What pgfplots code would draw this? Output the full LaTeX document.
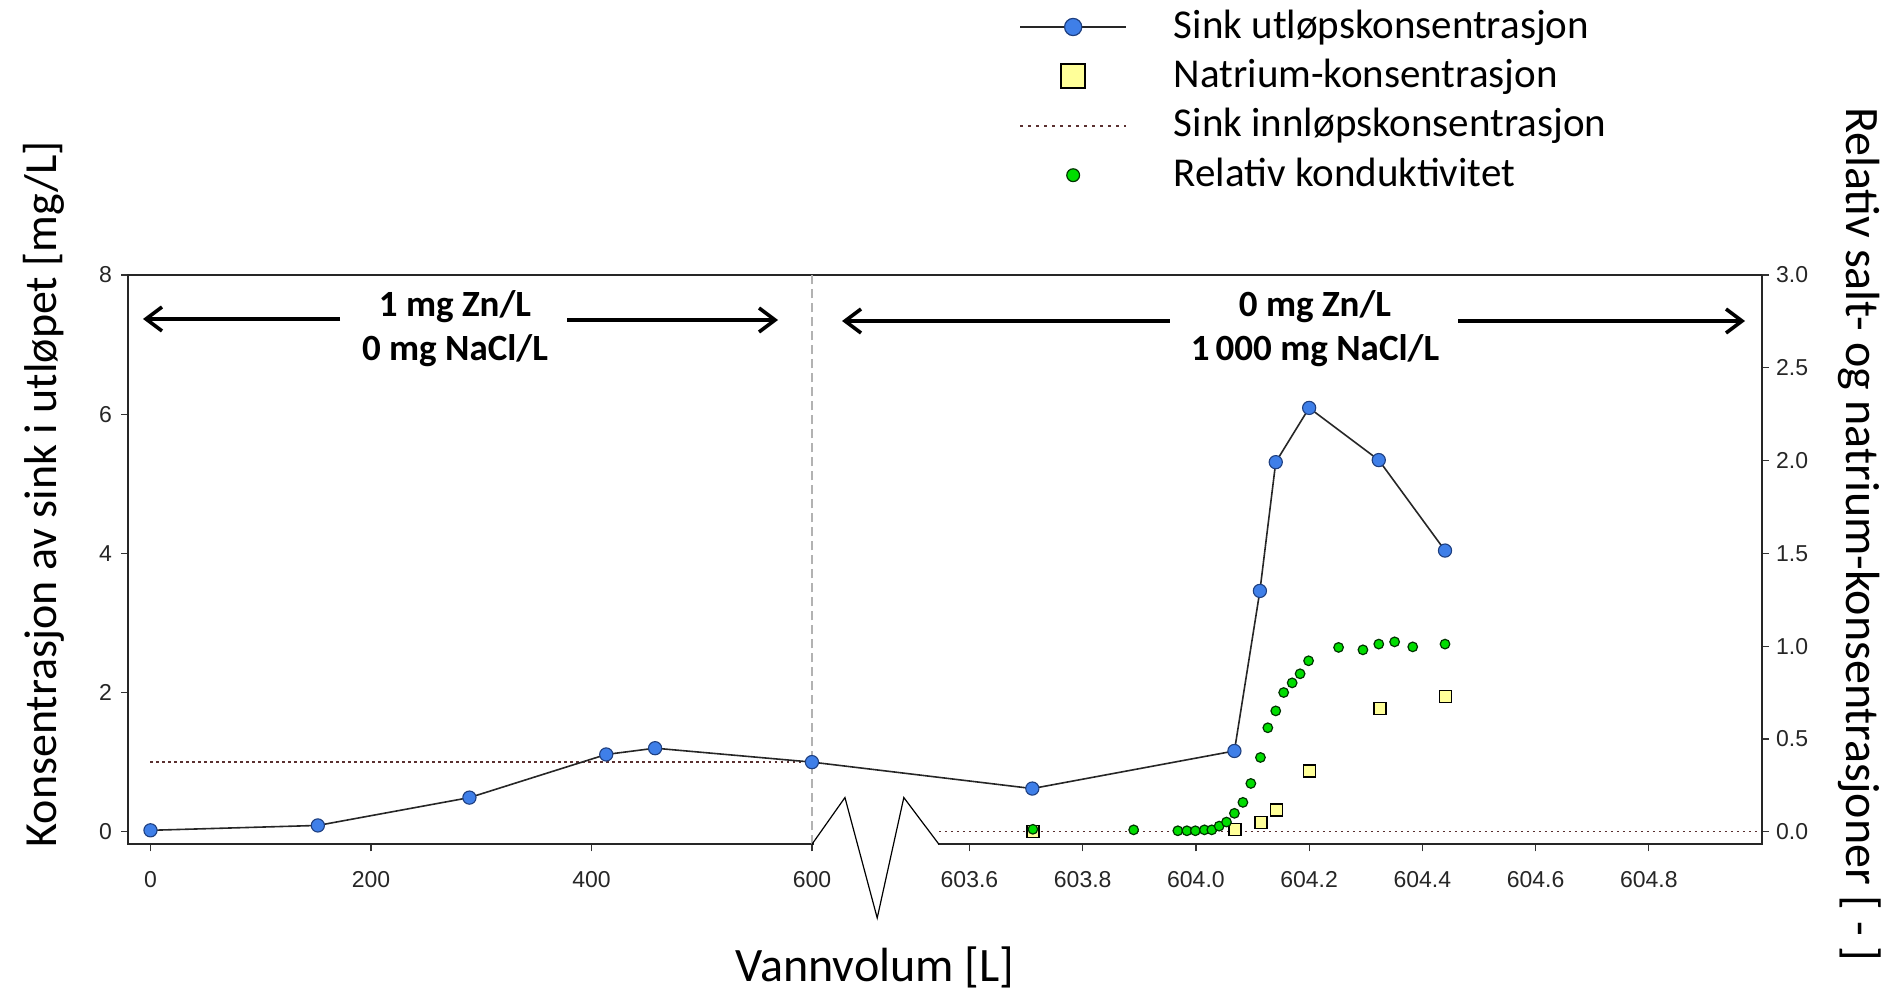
\documentclass[border=0pt]{standalone}
\usepackage{fontspec}
\setmainfont{Carlito}
\newfontfamily\tickfont{Liberation Sans}
\usepackage{pgfplots}
\pgfplotsset{compat=1.18}
\usetikzlibrary{arrows.meta}

\definecolor{zblue}{HTML}{3F7FE8}
\definecolor{zblueedge}{HTML}{1E3F80}
\definecolor{nayellow}{HTML}{FFFF99}
\definecolor{cgreen}{HTML}{00DD00}
\definecolor{cgreenedge}{HTML}{003300}
\definecolor{innred}{HTML}{5A3030}

% broken x axis: 0..600 kept, 603.6.. stretched
\newdimen\brkdim
\makeatletter
\def\brokentrafo#1{%
  \begingroup
    \pgfkeys{/pgf/fpu=true,/pgf/fpu/output format=fixed}%
    \pgfmathparse{#1}%
    \global\let\brk@in\pgfmathresult
  \endgroup
  \brkdim=\brk@in pt\relax
  \ifdim\brkdim<602pt\relax
    \edef\pgfmathresult{\brk@in}%
  \else
    \advance\brkdim by -603.6pt\relax
    \brkdim=513.5\brkdim
    \advance\brkdim by 742.9pt\relax
    \edef\pgfmathresult{\strip@pt\brkdim}%
  \fi}
\makeatother

\pgfplotsset{
  brokenx/.style={
    x coord trafo/.code={\brokentrafo{##1}},
    xmin=-20.4, xmax=605,
    at={(64pt,72.85pt)}, anchor=south west,
    scale only axis, width=817pt, height=284.65pt,
    clip=false,
    tick align=outside,
    major tick length=3.5pt,
    tick style={black!80, line width=0.6pt},
    axis line style={black!85, line width=0.9pt},
    ticklabel style={font=\tickfont\fontsize{11.5}{13}\selectfont, text=black!85},
    /pgf/number format/assume math mode=true,
  },
}

\begin{document}
\begin{tikzpicture}
\useasboundingbox (0,0) rectangle (944pt,495pt);

\begin{axis}[
  brokenx,
  ymin=-0.181, ymax=8,
  ytick={0,2,4,6,8},
  xtick={0,200,400,600,603.6,603.8,604.0,604.2,604.4,604.6,604.8},
  xticklabels={0,200,400,600,603.6,603.8,604.0,604.2,604.4,604.6,604.8},
  xticklabel style={yshift=-6.5pt},
  yticklabel style={xshift=-1pt},
  tick pos=left,
]
% Sink innloepskonsentrasjon
\addplot[innred, line width=0.75pt, dash pattern=on 1.2pt off 1.8pt] coordinates {(0,1) (600,1)};
\addplot[innred, line width=0.75pt, dash pattern=on 1.2pt off 1.8pt] coordinates {(603.546,0) (605,0)};
% break marker line at 600
\addplot[gray!60, line width=0.8pt, dash pattern=on 4.5pt off 2.5pt] coordinates {(600,-0.181) (600,8)};
% Sink utloepskonsentrasjon
\addplot[black!85, line width=0.8pt, mark=*, mark size=3.3pt,
  mark options={fill=zblue, draw=zblueedge, line width=0.55pt}] coordinates {
  (0,0.02) (151.8,0.09) (289.3,0.49) (413.4,1.11) (457.7,1.20) (600,1.00)
  (603.711,0.62) (604.068,1.16) (604.113,3.46) (604.141,5.31) (604.200,6.09)
  (604.323,5.34) (604.440,4.04)};
\end{axis}

\begin{axis}[
  brokenx,
  ymin=-0.0679, ymax=3,
  axis y line*=right, axis x line=none,
  ytick={0,0.5,1,1.5,2,2.5,3},
  yticklabel style={/pgf/number format/.cd, fixed, fixed zerofill, precision=1},
  legend style={at={(axis description cs:0.5452,1.479)}, anchor=north west,
    draw=none, fill=none, inner sep=0pt, outer sep=0pt, row sep=0pt,
    font=\fontsize{20.5}{24}\selectfont,
    nodes={inner xsep=0pt, inner ysep=2.35pt, text height=15.5pt, text depth=4.5pt},
    /tikz/every odd column/.append style={column sep=23.2pt}},
  legend cell align=left,
  legend image code/.code={\draw[mark repeat=2,mark phase=2,#1] plot coordinates {(0pt,0pt) (26.5pt,0pt) (53pt,0pt)};},
]
\addlegendimage{black!85, line width=1.3pt, mark=*, mark size=4.3pt, mark options={fill=zblue, draw=zblueedge, line width=0.6pt}}
\addlegendentry{Sink utløpskonsentrasjon}
\addlegendimage{only marks, mark=square*, mark size=6pt, mark options={fill=nayellow, draw=black, line width=0.9pt}}
\addlegendentry{Natrium-konsentrasjon}
\addlegendimage{innred, line width=1pt, dash pattern=on 1.5pt off 2.5pt}
\addlegendentry{Sink innløpskonsentrasjon}
\addlegendimage{only marks, mark=*, mark size=3.2pt, mark options={fill=cgreen, draw=cgreenedge, line width=0.6pt}}
\addlegendentry{Relativ konduktivitet}

% Natrium-konsentrasjon
\addplot[forget plot, only marks, mark=square*, mark size=3pt,
  mark options={fill=nayellow, draw=black, line width=0.6pt}] coordinates {
  (603.712,0.0) (604.069,0.01) (604.115,0.049) (604.142,0.117)
  (604.201,0.327) (604.325,0.666) (604.441,0.728)};
% Relativ konduktivitet
\addplot[forget plot, only marks, mark=*, mark size=2.4pt,
  mark options={fill=cgreen, draw=cgreenedge, line width=0.6pt}] coordinates {
  (603.712,0.013) (603.890,0.01) (603.968,0.005) (603.984,0.005) (603.999,0.005)
  (604.015,0.01) (604.028,0.01) (604.041,0.03) (604.054,0.052) (604.068,0.099)
  (604.083,0.158) (604.097,0.26) (604.114,0.40) (604.127,0.56) (604.141,0.651)
  (604.155,0.75) (604.170,0.802) (604.184,0.851) (604.199,0.921) (604.252,0.993)
  (604.295,0.980) (604.323,1.011) (604.351,1.023) (604.383,0.996) (604.440,1.011)};
% axis break
\addplot[forget plot, white, line width=3pt] coordinates {(601.5,-0.0679) (603.544,-0.0679)};
\addplot[forget plot, black, line width=0.6pt] coordinates {(600,-0.0679) (603.380,0.184) (603.437,-0.465) (603.484,0.184) (603.546,-0.0679)};
\end{axis}

% annotations
\begin{scope}[font=\bfseries\fontsize{18.5}{22}\selectfont]
\node[anchor=base, inner sep=0pt] at (227.5pt,336.5pt) {1 mg Zn/L};
\node[anchor=base, inner sep=0pt] at (227.5pt,314.5pt) {0 mg NaCl/L};
\node[anchor=base, inner sep=0pt] at (657.5pt,336.5pt) {0 mg Zn/L};
\node[anchor=base, inner sep=0pt] at (657.5pt,314.5pt) {1\,000 mg NaCl/L};
\end{scope}
\begin{scope}[line width=1.8pt, -{Straight Barb[length=8pt,width=12pt]}]
\draw (170pt,335.5pt) -- (71.5pt,335.5pt);
\draw (283.5pt,335pt) -- (389pt,335pt);
\draw (584.75pt,334.5pt) -- (421pt,334.5pt);
\draw (729pt,334.5pt) -- (872.5pt,334.5pt);
\end{scope}

% axis titles
\node[rotate=90, anchor=base, inner sep=0pt, font=\fontsize{23}{27}\selectfont] at (28.3pt,248pt) {Konsentrasjon av sink i utløpet [mg/L]};
\node[rotate=-90, anchor=base, inner sep=0pt, font=\fontsize{24}{28}\selectfont] at (923pt,227.75pt) {Relativ salt- og natrium-konsentrasjoner [ - ]};
\node[anchor=base, inner sep=0pt, font=\fontsize{24}{28}\selectfont] at (437.5pt,4.5pt) {Vannvolum [L]};
\end{tikzpicture}
\end{document}
